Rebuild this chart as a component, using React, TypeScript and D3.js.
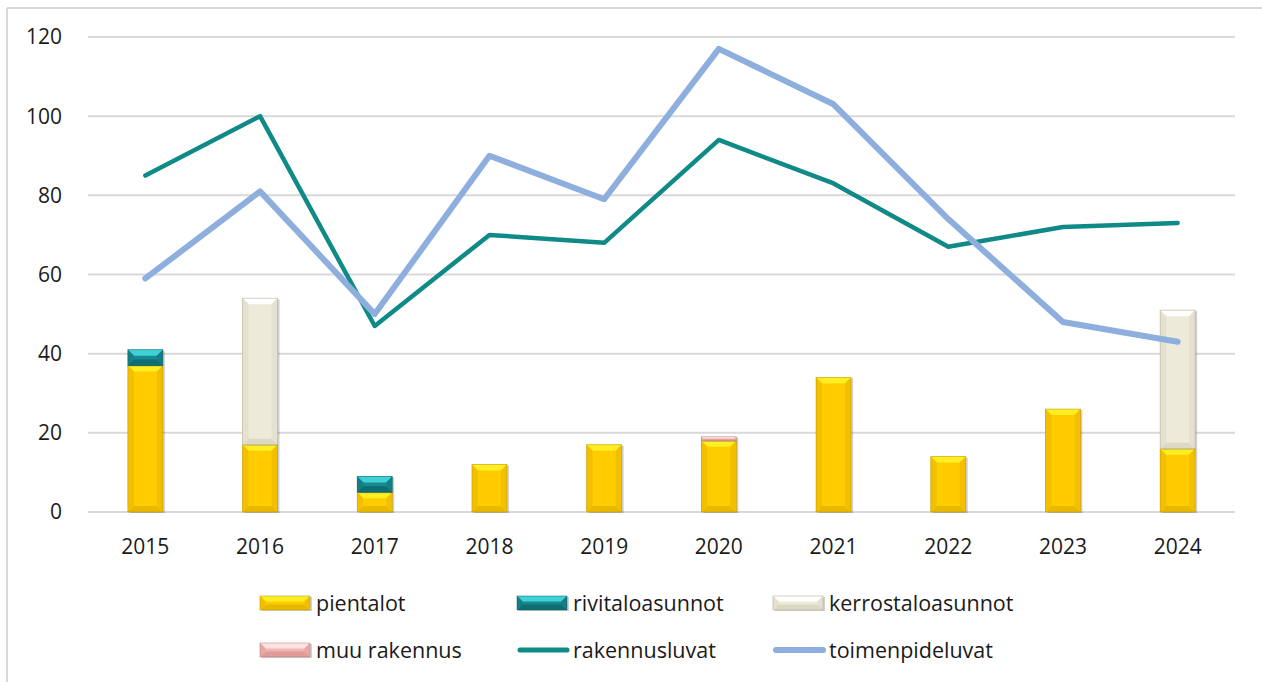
import React from "react";
import * as d3 from "d3";

const years = ["2015", "2016", "2017", "2018", "2019", "2020", "2021", "2022", "2023", "2024"];
const pientalot = [37, 17, 5, 12, 17, 18, 34, 14, 26, 16];
const rivitaloasunnot = [4, 0, 4, 0, 0, 0, 0, 0, 0, 0];
const kerrostaloasunnot = [0, 37, 0, 0, 0, 0, 0, 0, 0, 35];
const muuRakennus = [0, 0, 0, 0, 0, 1, 0, 0, 0, 0];
const rakennusluvat = [85, 100, 47, 70, 68, 94, 83, 67, 72, 73];
const toimenpideluvat = [59, 81, 50, 90, 79, 117, 103, 74, 48, 43];
const yTicks = [0, 20, 40, 60, 80, 100, 120];

type Look = { base: string; top: string; bottom: string; side: string; edge: string };
const looks: Record<string, Look> = {
  pientalot: { base: "#FFCC00", top: "#FFEE22", bottom: "#E8B800", side: "#F2C000", edge: "#B89000" },
  rivitalo: { base: "#17898F", top: "#3ED2D8", bottom: "#0E6E73", side: "#147E84", edge: "#0C5F63" },
  kerrostalo: { base: "#EEEADA", top: "#FFFFFF", bottom: "#DDD8C4", side: "#E6E1CE", edge: "#A8A490" },
  muu: { base: "#F0B4B4", top: "#FFE2E2", bottom: "#E09A9A", side: "#E8A8A8", edge: "#B07878" },
};

const font = "'Open Sans', 'Noto Sans', sans-serif";

function BevelRect({ x, y, w, h, look }: { x: number; y: number; w: number; h: number; look: Look }) {
  if (h <= 0) return null;
  const b = Math.min(6, h / 2.5, w / 4);
  return (
    <g>
      <rect x={x + 2} y={y + 1} width={w} height={h} fill="#000" opacity={0.18} />
      <rect x={x} y={y} width={w} height={h} fill={look.base} />
      <polygon points={`${x},${y} ${x + w},${y} ${x + w - b},${y + b} ${x + b},${y + b}`} fill={look.top} />
      <polygon points={`${x},${y + h} ${x + w},${y + h} ${x + w - b},${y + h - b} ${x + b},${y + h - b}`} fill={look.bottom} />
      <polygon points={`${x},${y} ${x + b},${y + b} ${x + b},${y + h - b} ${x},${y + h}`} fill={look.side} />
      <polygon points={`${x + w},${y} ${x + w - b},${y + b} ${x + w - b},${y + h - b} ${x + w},${y + h}`} fill={look.side} />
      <rect x={x} y={y} width={w} height={h} fill="none" stroke={look.edge} strokeWidth={0.8} opacity={0.6} />
    </g>
  );
}

export default function App() {
  const width = 1262;
  const height = 682;
  const x = d3.scaleBand<string>().domain(years).range([88, 1235]);
  const y = d3.scaleLinear().domain([0, 120]).range([512, 37]);
  const barW = 35;

  const stacks = [
    { data: pientalot, look: looks.pientalot },
    { data: rivitaloasunnot, look: looks.rivitalo },
    { data: kerrostaloasunnot, look: looks.kerrostalo },
    { data: muuRakennus, look: looks.muu },
  ];

  const line = d3
    .line<number>()
    .x((_, i) => (x(years[i]) as number) + x.bandwidth() / 2)
    .y((d) => y(d));

  const legendRows = [
    [
      { label: "pientalot", kind: "bar", look: looks.pientalot, x: 260 },
      { label: "rivitaloasunnot", kind: "bar", look: looks.rivitalo, x: 517 },
      { label: "kerrostaloasunnot", kind: "bar", look: looks.kerrostalo, x: 773 },
    ],
    [
      { label: "muu rakennus", kind: "bar", look: looks.muu, x: 260 },
      { label: "rakennusluvat", kind: "line", color: "#0F8A86", w: 5, x: 517 },
      { label: "toimenpideluvat", kind: "line", color: "#8EAEDD", w: 6, x: 773 },
    ],
  ];

  return (
    <svg width={width} height={height} style={{ position: "absolute", left: 0, top: 0, background: "#fff" }}>
      <line x1={7} y1={8} x2={width} y2={8} stroke="#D9D9D9" strokeWidth={2} />
      <line x1={7} y1={8} x2={7} y2={height} stroke="#D9D9D9" strokeWidth={2} />
      {yTicks.map((t) => (
        <g key={t}>
          <line x1={88} x2={1235} y1={y(t)} y2={y(t)} stroke="#D9D9D9" strokeWidth={2} />
          <text x={62} y={y(t)} dy="0.35em" textAnchor="end" fontFamily={font} fontSize={21} fill="#1a1a1a">
            {t}
          </text>
        </g>
      ))}
      {years.map((yr, i) => {
        const cx = (x(yr) as number) + x.bandwidth() / 2;
        let acc = 0;
        return (
          <g key={yr}>
            {stacks.map((s, k) => {
              const v = s.data[i];
              const y0 = y(acc);
              acc += v;
              const y1 = y(acc);
              return <BevelRect key={k} x={cx - barW / 2} y={y1} w={barW} h={y0 - y1} look={s.look} />;
            })}
            <text x={cx} y={547} dy="0.35em" textAnchor="middle" fontFamily={font} fontSize={21} fill="#1a1a1a">
              {yr}
            </text>
          </g>
        );
      })}
      <path d={line(rakennusluvat) || ""} fill="none" stroke="#0F8A86" strokeWidth={4.5} strokeLinejoin="round" strokeLinecap="round" />
      <path d={line(toimenpideluvat) || ""} fill="none" stroke="#8EAEDD" strokeWidth={6} strokeLinejoin="round" strokeLinecap="round" />
      {legendRows.map((row, r) => {
        const ly = r === 0 ? 603 : 650;
        return (
          <g key={r}>
            {row.map((it: any) => (
              <g key={it.label}>
                {it.kind === "bar" ? (
                  <BevelRect x={it.x} y={ly - 7} w={50} h={14} look={it.look} />
                ) : (
                  <line x1={it.x + 3} x2={it.x + 50} y1={ly} y2={ly} stroke={it.color} strokeWidth={it.w} strokeLinecap="round" />
                )}
                <text x={it.x + 56} y={ly} dy="0.35em" fontFamily={font} fontSize={21.5} fill="#1a1a1a">
                  {it.label}
                </text>
              </g>
            ))}
          </g>
        );
      })}
    </svg>
  );
}
